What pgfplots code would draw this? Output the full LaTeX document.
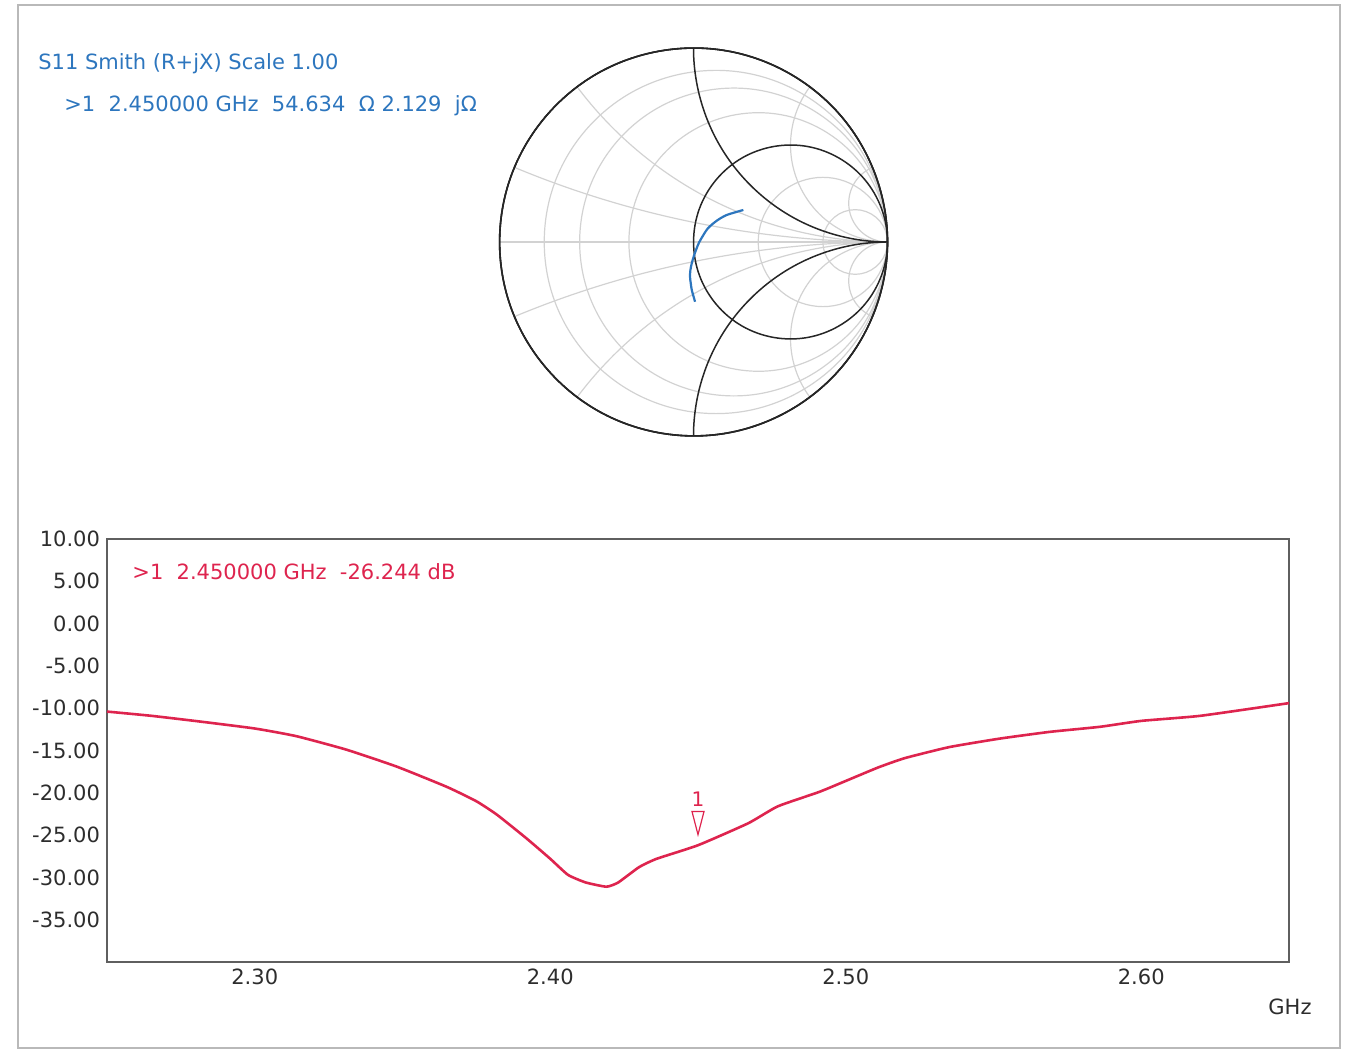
\documentclass[border=0pt]{standalone}
\usepackage{fontspec}
\setmainfont{DejaVu Sans}
\usepackage{pgfplots}
\pgfplotsset{compat=1.18}
\usepgfplotslibrary{smithchart}

\definecolor{vnablue}{RGB}{45,118,190}
\definecolor{vnared}{RGB}{222,36,78}
\definecolor{ticktxt}{RGB}{45,45,45}
\definecolor{framegray}{RGB}{95,95,95}

\begin{document}
\begin{tikzpicture}[font=\fontsize{10.5}{12}\selectfont]
% page = 1349 x 1053 px, 1 px = 0.5pt
\path[use as bounding box] (0,0) rectangle (674.5pt,526.5pt);
\draw[gray!55, line width=0.9pt] (9pt,2.5pt) rectangle (670pt,524pt);

% --- Smith chart: light grid
\begin{smithchart}[
    at={(346.75pt,405.5pt)}, anchor=center,
    width=194pt, scale only axis,
    xtick={0.13,0.26,0.5,2,5},
    ytick={-5,-2,-0.5,-0.2,0.2,0.5,2,5},
    grid=major,
    major grid style={gray!35, line width=0.6pt},
    major tick length=0pt,
    xticklabels={}, yticklabels={},
    axis line style={black, line width=0.8pt},
    x axis line style={gray!35, line width=0.6pt},
]
\end{smithchart}

% --- Smith chart: r=1 circle, x=+-1 arcs and the trace
\begin{smithchart}[
    at={(346.75pt,405.5pt)}, anchor=center,
    width=194pt, scale only axis,
    xtick={1},
    ytick={-1,1},
    grid=major,
    major grid style={black!85, line width=0.75pt},
    major tick length=0pt,
    xticklabels={}, yticklabels={},
    axis line style={black!85, line width=0.8pt},
    x axis line style={draw=none},
]
\addplot[is smithchart cs, vnablue, line width=1.1pt, smooth] coordinates {
(0.257,0.165) (0.215,0.153) (0.171,0.139) (0.135,0.120) (0.102,0.096)
(0.072,0.068) (0.051,0.036) (0.030,0.000) (0.016,-0.033) (0.002,-0.072)
(-0.009,-0.110) (-0.016,-0.145) (-0.018,-0.179) (-0.014,-0.214)
(-0.009,-0.247) (0.000,-0.280) (0.008,-0.308)
};
\end{smithchart}

\node[anchor=base west, inner sep=0pt, text=vnablue] at (19pt,491.5pt) {S11 Smith (R+jX) Scale 1.00};
\node[anchor=base west, inner sep=0pt, text=vnablue] at (32pt,470.5pt)
  {>1\ \ 2.450000 GHz\ \ 54.634\ \ Ω 2.129\ \ jΩ};

% --- S11 log magnitude
\begin{axis}[
    at={(53.5pt,45.5pt)}, anchor=south west,
    width=591pt, height=211.5pt, scale only axis,
    xmin=2.25, xmax=2.65,
    ymin=-40, ymax=10,
    xtick={2.3,2.4,2.5,2.6},
    ytick={-35,-30,-25,-20,-15,-10,-5,0,5,10},
    major tick length=0pt,
    axis line style={framegray, line width=0.8pt},
    tick label style={text=ticktxt, font=\fontsize{10.5}{12}\selectfont},
    /pgf/number format/.cd, fixed, fixed zerofill, precision=2, assume math mode=true,
]
\addplot[vnared, line width=1.3pt, smooth, tension=0.3] coordinates {
(2.250,-10.4) (2.265,-10.9) (2.282,-11.6) (2.300,-12.4) (2.314,-13.3)
(2.331,-14.9) (2.348,-16.9) (2.365,-19.3) (2.375,-21.0) (2.382,-22.6)
(2.392,-25.4) (2.400,-27.8) (2.406,-29.7) (2.412,-30.6) (2.419,-31.1)
(2.423,-30.6) (2.430,-28.8) (2.436,-27.8) (2.450,-26.2) (2.467,-23.6)
(2.477,-21.6) (2.491,-19.9) (2.500,-18.6) (2.511,-17.0) (2.520,-15.9)
(2.535,-14.6) (2.552,-13.6) (2.569,-12.8) (2.586,-12.2) (2.600,-11.5)
(2.620,-10.9) (2.650,-9.4)
};
% marker 1
\addplot[only marks, mark=triangle, mark size=7.7pt,
    mark options={draw=vnared, fill=white, line width=0.6pt, yshift=13.2pt, rotate=180, xscale=0.45},
    nodes near coords={1},
    every node near coord/.style={anchor=center, yshift=9.8pt, text=vnared, font=\fontsize{10}{11}\selectfont}]
    coordinates {(2.45,-26.244)};
\end{axis}

\node[anchor=base west, inner sep=0pt, text=vnared] at (66pt,236.5pt) {>1\ \ 2.450000 GHz\ \ -26.244 dB};
\node[anchor=base, text=ticktxt] at (645pt,19pt) {GHz};
\end{tikzpicture}
\end{document}
